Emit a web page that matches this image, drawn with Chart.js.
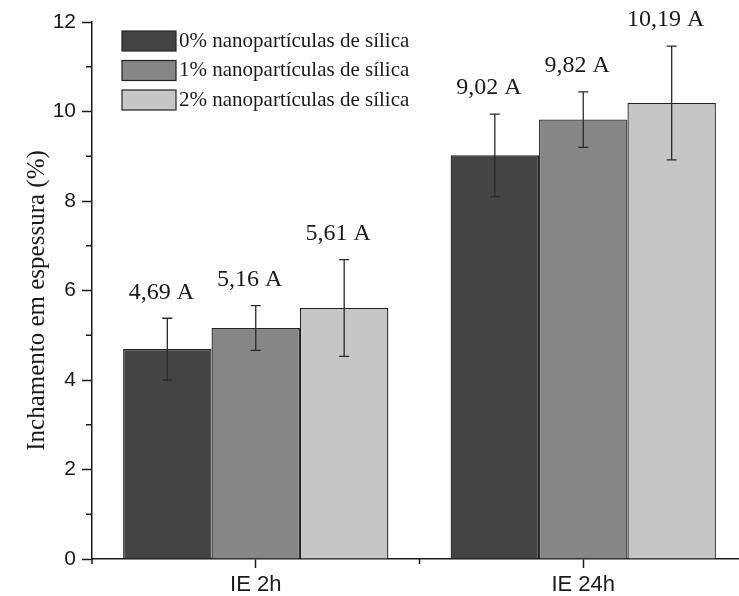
<!DOCTYPE html>
<html>
<head>
<meta charset="utf-8">
<script src="https://cdn.jsdelivr.net/npm/chart.js@4.4.0/dist/chart.umd.min.js"></script>
<style>
    html, body { margin: 0; padding: 0; background: #fff; overflow: hidden; }
    #wrap { width: 760px; height: 596px; }
</style>
</head>
<body>
<div id="wrap"><canvas id="chart" width="760" height="596"></canvas></div>
<script>
// data
const categories = ["IE 2h", "IE 24h"];
const seriesNames = ["0% nanopartículas de sílica", "1% nanopartículas de sílica", "2% nanopartículas de sílica"];
const silica0 = [4.69, 9.02];
const silica1 = [5.16, 9.82];
const silica2 = [5.61, 10.19];
const silica0Err = [0.69, 0.92];
const silica1Err = [0.50, 0.62];
const silica2Err = [1.08, 1.27];
const barLabels = [["4,69 A", "9,02 A"], ["5,16 A", "9,82 A"], ["5,61 A", "10,19 A"]];
const yTicks = [0, 2, 4, 6, 8, 10, 12];
const yTitle = "Inchamento em espessura (%)";

const barColors = ["#444444", "#868686", "#c6c6c6"];
const values = [silica0, silica1, silica2];
const errors = [silica0Err, silica1Err, silica2Err];

const axisColor = "#1a1a1a";
const sansFont = "'Liberation Sans', Arial, sans-serif";
const serifFont = "'Liberation Serif', 'Times New Roman', serif";

// error bars + value labels over each bar
const errorBarPlugin = {
    id: "errorBars",
    afterDatasetsDraw: function (chart) {
        const ctx = chart.ctx;
        const y = chart.scales.y;
        ctx.save();
        chart.data.datasets.forEach(function (ds, i) {
            const meta = chart.getDatasetMeta(i);
            meta.data.forEach(function (bar, j) {
                const v = ds.data[j];
                const e = errors[i][j];
                const top = y.getPixelForValue(v + e);
                const bot = y.getPixelForValue(v - e);
                ctx.strokeStyle = "#2a2a2a";
                ctx.lineWidth = 1.3;
                ctx.beginPath();
                ctx.moveTo(bar.x, top);
                ctx.lineTo(bar.x, bot);
                ctx.moveTo(bar.x - 5, top);
                ctx.lineTo(bar.x + 5, top);
                ctx.moveTo(bar.x - 5, bot);
                ctx.lineTo(bar.x + 5, bot);
                ctx.stroke();

                ctx.fillStyle = "#1a1a1a";
                ctx.font = "24px " + serifFont;
                ctx.textAlign = "center";
                ctx.textBaseline = "middle";
                ctx.fillText(barLabels[i][j], bar.x - 6, top - 26);
            });
        });
        ctx.restore();
    }
};

// minor y ticks, extra x ticks, y title and the legend box inside the plot
const extrasPlugin = {
    id: "extras",
    afterDraw: function (chart) {
        const ctx = chart.ctx;
        const area = chart.chartArea;
        const x = chart.scales.x;
        const y = chart.scales.y;
        ctx.save();
        ctx.strokeStyle = axisColor;
        ctx.lineWidth = 1.5;
        ctx.beginPath();
        for (let v = 1; v < 12; v += 2) {
            const py = y.getPixelForValue(v);
            ctx.moveTo(area.left - 6, py);
            ctx.lineTo(area.left, py);
        }
        const mid = (x.getPixelForValue(0) + x.getPixelForValue(1)) / 2;
        [area.left, mid, area.right].forEach(function (px) {
            ctx.moveTo(px, area.bottom);
            ctx.lineTo(px, area.bottom + 5);
        });
        ctx.stroke();

        // y axis title
        ctx.save();
        ctx.translate(37, (area.top + area.bottom) / 2 + 10);
        ctx.rotate(-Math.PI / 2);
        ctx.font = "25px " + serifFont;
        ctx.fillStyle = "#1a1a1a";
        ctx.textAlign = "center";
        ctx.textBaseline = "middle";
        ctx.fillText(yTitle, 0, 0);
        ctx.restore();

        // legend
        const bx = area.left + 30;
        let by = area.top + 9;
        ctx.font = "21px " + serifFont;
        ctx.textAlign = "left";
        ctx.textBaseline = "middle";
        chart.data.datasets.forEach(function (ds) {
            ctx.fillStyle = ds.backgroundColor;
            ctx.fillRect(bx, by, 54, 20);
            ctx.strokeStyle = "#222";
            ctx.lineWidth = 1.2;
            ctx.strokeRect(bx, by, 54, 20);
            ctx.fillStyle = "#1a1a1a";
            ctx.fillText(ds.label, bx + 57, by + 10);
            by += 29.5;
        });
        ctx.restore();
    }
};

const datasets = seriesNames.map(function (name, i) {
    return {
        label: name,
        data: values[i],
        backgroundColor: barColors[i],
        borderColor: "#222222",
        borderWidth: 1.3,
        categoryPercentage: 0.81,
        barPercentage: 1.0
    };
});

new Chart(document.getElementById("chart"), {
    type: "bar",
    data: { labels: categories, datasets: datasets },
    plugins: [errorBarPlugin, extrasPlugin],
    options: {
        responsive: false,
        animation: false,
        layout: { padding: { top: 22, right: 13, left: 0, bottom: 0 } },
        plugins: { legend: { display: false }, tooltip: { enabled: false } },
        scales: {
            x: {
                offset: true,
                grid: { offset: false, drawOnChartArea: false, tickLength: 9, tickColor: axisColor, tickWidth: 1.5 },
                border: { color: axisColor, width: 1.5 },
                ticks: { color: "#1a1a1a", font: { family: sansFont, size: 22 }, padding: 4 },
                afterFit: function (scale) { scale.height = 37; }
            },
            y: {
                min: 0,
                max: 12,
                afterBuildTicks: function (scale) {
                    scale.ticks = yTicks.map(function (v) { return { value: v }; });
                },
                grid: { drawOnChartArea: false, tickLength: 10, tickColor: axisColor, tickWidth: 1.5 },
                border: { color: axisColor, width: 1.5 },
                ticks: { color: "#1a1a1a", font: { family: sansFont, size: 21 }, padding: 6 },
                afterFit: function (scale) { scale.width = 92; }
            }
        }
    }
});
</script>
</body>
</html>
